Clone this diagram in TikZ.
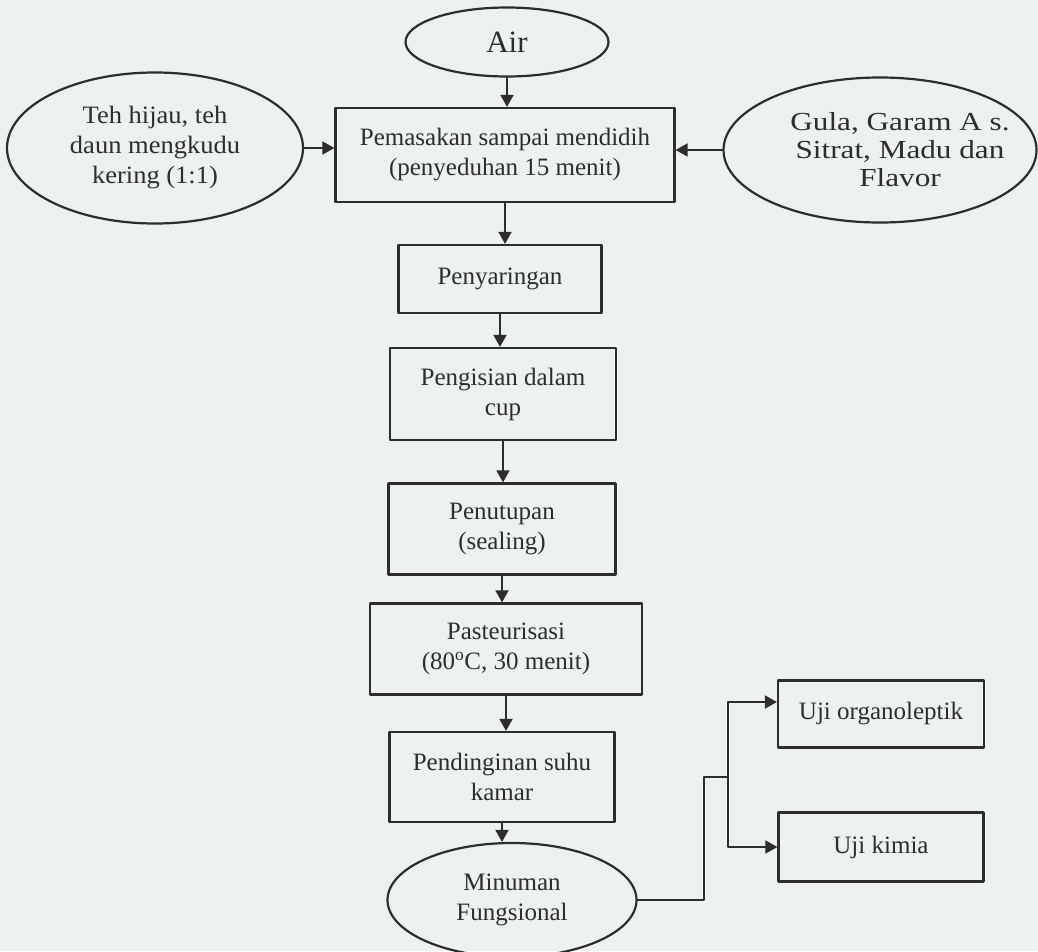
\documentclass[tikz,border=0pt]{standalone}
\usepackage{fontspec}
\setmainfont{Liberation Serif}
\newfontfamily\tehfont[FakeStretch=1.06]{Liberation Serif}
\newfontfamily\gulafont[FakeStretch=1.2]{Liberation Serif}
\usetikzlibrary{shapes.geometric,arrows.meta}
\definecolor{kertas}{RGB}{237,241,241}
\definecolor{tinta}{RGB}{45,45,45}
\begin{document}
\begin{tikzpicture}[x=1pt,y=-1pt,line cap=round,line join=round,
		kotak/.style={draw=tinta,line width=2.2pt,rectangle,align=center,inner sep=0pt,
			font=\fontsize{25}{30}\selectfont,text=tinta},
		elips/.style={draw=tinta,line width=2.2pt,ellipse,align=center,inner sep=0pt,
			font=\fontsize{25}{30}\selectfont,text=tinta},
		panah/.style={draw=tinta,line width=1.7pt,-{Triangle[length=12pt,width=13pt]}}]
				\fill[kertas] (0,0) rectangle (1038,951);
				\useasboundingbox (0,0) rectangle (1038,951);
				% bahan
				\node[elips,minimum width=203,minimum height=69,font=\fontsize{31}{36}\selectfont] (air) at (507,42) {Air};
				\node[elips,minimum width=296,minimum height=151,font=\tehfont\fontsize{25}{30}\selectfont] (teh) at (155,148) {Teh hijau, teh\\daun mengkudu\\kering (1:1)};
				\node[elips,minimum width=313,minimum height=145,
					label={[align=center,text=tinta,xshift=20pt,font=\gulafont\fontsize{26}{28}\selectfont]center:{Gula, Garam A s.\\Sitrat, Madu dan\\Flavor}}] (gula) at (880,150) {};
				% tahap proses
				\node[kotak,minimum width=339,minimum height=94] (masak) at (505,155) {Pemasakan sampai mendidih\\(penyeduhan 15 menit)};
				\node[kotak,minimum width=203,minimum height=68] (saring) at (500,279) {Penyaringan};
				\node[kotak,minimum width=226,minimum height=92] (isi) at (503,394) {Pengisian dalam\\cup};
				\node[kotak,minimum width=227,minimum height=91] (tutup) at (502,529) {Penutupan\\(sealing)};
				\node[kotak,minimum width=272,minimum height=91] (pasteur) at (506,649) {Pasteurisasi\\(80$^{\mathrm{o}}$C, 30 menit)};
				\node[kotak,minimum width=225,minimum height=90] (dingin) at (502,777) {Pendinginan suhu\\kamar};
				\node[elips,minimum width=249,minimum height=114] (minum) at (512,900) {Minuman\\Fungsional};
				% uji
				\node[kotak,minimum width=206,minimum height=67] (organo) at (881,714) {Uji organoleptik};
				\node[kotak,minimum width=205,minimum height=69] (kimia) at (881,847) {Uji kimia};
				\coordinate (belok) at (704,777);
				\coordinate (cabang) at (728,777);
				% panah
				\draw[panah] (air.south) -- (air.south |- masak.north);
				\draw[panah] (teh.east) -- (teh.east -| masak.west);
				\draw[panah] (gula.west) -- (gula.west -| masak.east);
				\draw[panah] (masak.south) -- (masak.south |- saring.north);
				\draw[panah] (saring.south) -- (saring.south |- isi.north);
				\draw[panah] (isi.south) -- (isi.south |- tutup.north);
				\draw[panah] (tutup.south) -- (tutup.south |- pasteur.north);
				\draw[panah] (pasteur.south) -- (pasteur.south |- dingin.north);
				\draw[panah] (dingin.south) -- (dingin.south |- minum.north);
				\draw[draw=tinta,line width=1.7pt] (minum.east) -| (belok) -- (cabang);
				\draw[panah] (cabang) |- ([yshift=12pt]organo.west);
				\draw[panah] (cabang) |- (kimia.west);
			\end{tikzpicture}
\end{document}
